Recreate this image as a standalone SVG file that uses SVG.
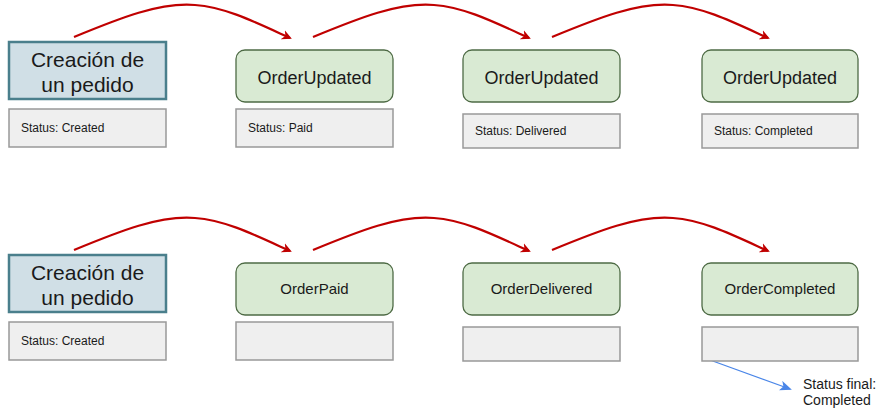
<svg xmlns="http://www.w3.org/2000/svg" width="880" height="411" viewBox="0 0 880 411">
<defs>
<marker id="red" markerWidth="10" markerHeight="10" refX="8" refY="5" orient="auto" markerUnits="userSpaceOnUse" viewBox="0 0 10 10"><path d="M0,0 L10,5 L0,10 L3,5 Z" fill="#c00000"/></marker>
<marker id="blue" markerWidth="12" markerHeight="10" refX="10" refY="5" orient="auto" markerUnits="userSpaceOnUse" viewBox="0 0 12 10"><path d="M0,0 L12,5 L0,10 L3,5 Z" fill="#4a86e8"/></marker>
<style>
.start{fill:#d0dfe6;stroke:#4a7f8c;stroke-width:2.5}
.ev{fill:#d9ead3;stroke:#4e6b45;stroke-width:1.3}
.st{fill:#efefef;stroke:#999;stroke-width:1.5}
.t{font-family:"Liberation Sans",Arial,sans-serif;fill:#1a1a1a}
.big{font-size:21px}
.mid{font-size:18px}
.sm{font-size:15px}
.xs{font-size:12px}
.note{font-size:14px}
.red{fill:none;stroke:#c00000;stroke-width:2.2;marker-end:url(#red)}
</style>
</defs>
<rect width="880" height="411" fill="#fff"/>
<g id="connectors">
<path class="red" d="M74,37 C120,18 160,2 195,5 C225,7 255,22 290,38"/>
<path class="red" d="M313,37 C359,18 399,2 434,5 C464,7 494,22 529,38"/>
<path class="red" d="M552,37 C598,18 638,2 673,5 C703,7 733,22 768,38"/>
<path class="red" d="M74,250 C120,231 160,215 195,218 C225,220 255,235 290,251"/>
<path class="red" d="M313,250 C359,231 399,215 434,218 C464,220 494,235 529,251"/>
<path class="red" d="M552,250 C598,231 638,215 673,218 C703,220 733,235 768,251"/>
<path d="M710,360 L790,389" fill="none" stroke="#4a86e8" stroke-width="1.2" marker-end="url(#blue)"/>
</g>
<g id="n1"><rect class="start" x="9" y="42" width="157" height="57"/><text class="t big" x="87.5" y="67" text-anchor="middle">Creación de</text><text class="t big" x="87.5" y="92" text-anchor="middle">un pedido</text></g>
<g id="s1"><rect class="st" x="9" y="109" width="157" height="38"/><text class="t xs" x="21" y="132">Status: Created</text></g>
<g id="n2"><rect class="ev" x="236" y="50" width="157" height="52" rx="9"/><text class="t mid" x="314.5" y="84" text-anchor="middle">OrderUpdated</text></g>
<g id="s2"><rect class="st" x="236" y="109" width="157" height="38"/><text class="t xs" x="248" y="132">Status: Paid</text></g>
<g id="n3"><rect class="ev" x="463" y="50" width="157" height="52" rx="9"/><text class="t mid" x="541.5" y="84" text-anchor="middle">OrderUpdated</text></g>
<g id="s3"><rect class="st" x="463" y="114" width="157" height="34"/><text class="t xs" x="475" y="135">Status: Delivered</text></g>
<g id="n4"><rect class="ev" x="702" y="50" width="156" height="52" rx="9"/><text class="t mid" x="780" y="84" text-anchor="middle">OrderUpdated</text></g>
<g id="s4"><rect class="st" x="702" y="114" width="156" height="34"/><text class="t xs" x="714" y="135">Status: Completed</text></g>
<g id="n5"><rect class="start" x="9" y="255" width="157" height="57"/><text class="t big" x="87.5" y="280" text-anchor="middle">Creación de</text><text class="t big" x="87.5" y="305" text-anchor="middle">un pedido</text></g>
<g id="s5"><rect class="st" x="9" y="322" width="157" height="38"/><text class="t xs" x="21" y="345">Status: Created</text></g>
<g id="n6"><rect class="ev" x="236" y="263" width="157" height="52" rx="9"/><text class="t sm" x="314.5" y="294" text-anchor="middle">OrderPaid</text></g>
<g id="s6"><rect class="st" x="236" y="322" width="157" height="38"/></g>
<g id="n7"><rect class="ev" x="463" y="263" width="157" height="52" rx="9"/><text class="t sm" x="541.5" y="294" text-anchor="middle">OrderDelivered</text></g>
<g id="s7"><rect class="st" x="463" y="327" width="157" height="34"/></g>
<g id="n8"><rect class="ev" x="702" y="263" width="156" height="52" rx="9"/><text class="t sm" x="780" y="294" text-anchor="middle">OrderCompleted</text></g>
<g id="s8"><rect class="st" x="702" y="327" width="156" height="34"/></g>
<g id="note"><text class="t note" x="803" y="389">Status final:</text><text class="t note" x="803" y="405">Completed</text></g>
</svg>
